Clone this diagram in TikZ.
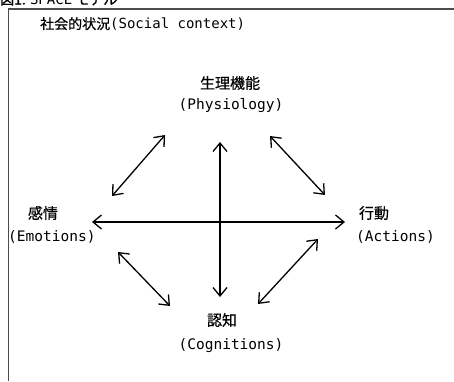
\documentclass[tikz,border=0pt]{standalone}
\usepackage{fontspec}
\setmainfont{Noto Sans CJK JP}
\newfontfamily\jp{Noto Sans CJK JP}[FakeBold=0.5]
\newfontfamily\lat{DejaVu Sans Mono}
\usetikzlibrary{arrows.meta}
\begin{document}
\begin{tikzpicture}[x=1pt,y=-1pt,
  lbl/.style={inner sep=0pt,font=\fontsize{15}{17}\selectfont\jp},
  latl/.style={inner sep=0pt,font=\fontsize{14.5}{17}\selectfont\lat},
  arr/.style={line width=1.3pt,{Straight Barb[length=8.5pt,width=14pt,line width=1.3pt]}-{Straight Barb[length=8.5pt,width=14pt,line width=1.3pt]}},
  frame/.style={draw=gray!60!black,line width=1.5pt}]
\clip (0,0) rectangle (454,381);
\fill[white] (0,0) rectangle (454,381);
\node[inner sep=0pt,anchor=base west,font=\fontsize{14}{16}\selectfont\jp] (title) at (0,4.5) {図1. {\lat\fontsize{14}{16}\selectfont SPACE} モデル};
\coordinate (ftr) at (454,9);
\coordinate (ftl) at (8.5,9);
\coordinate (fbl) at (8.5,381);
\draw[frame] (ftr) -- (ftl) -- (fbl);
\node[inner sep=0pt,anchor=west,font=\fontsize{14}{16}\selectfont\jp] (ctx) at (40,24) {社会的状況{\lat\fontsize{14}{16}\selectfont(Social context)}};
\node[lbl] (phy) at (230,83) {生理機能};
\node[latl] (phyE) at (231,106) {(Physiology)};
\node[lbl] (emo) at (43,213) {感情};
\node[latl,anchor=west] (emoE) at (8,237) {(Emotions)};
\node[lbl] (act) at (374,213) {行動};
\node[latl,anchor=west] (actE) at (356,237) {(Actions)};
\node[lbl] (cog) at (222,320) {認知};
\node[latl] (cogE) at (231,346) {(Cognitions)};
\coordinate (hL) at (92,222);
\coordinate (hR) at (345,222);
\coordinate (vT) at (220,142);
\coordinate (vB) at (220,297);
\coordinate (ulA) at (112,196);
\coordinate (ulB) at (165,135);
\coordinate (urA) at (270,136);
\coordinate (urB) at (325,195);
\coordinate (llA) at (118,252);
\coordinate (llB) at (170,306);
\coordinate (lrA) at (258,304);
\coordinate (lrB) at (318,239);
\draw[arr] (hL) -- (hR);
\draw[arr] (vT) -- (vB);
\draw[arr] (ulA) -- (ulB);
\draw[arr] (urA) -- (urB);
\draw[arr] (llA) -- (llB);
\draw[arr] (lrA) -- (lrB);
\end{tikzpicture}
\end{document}
